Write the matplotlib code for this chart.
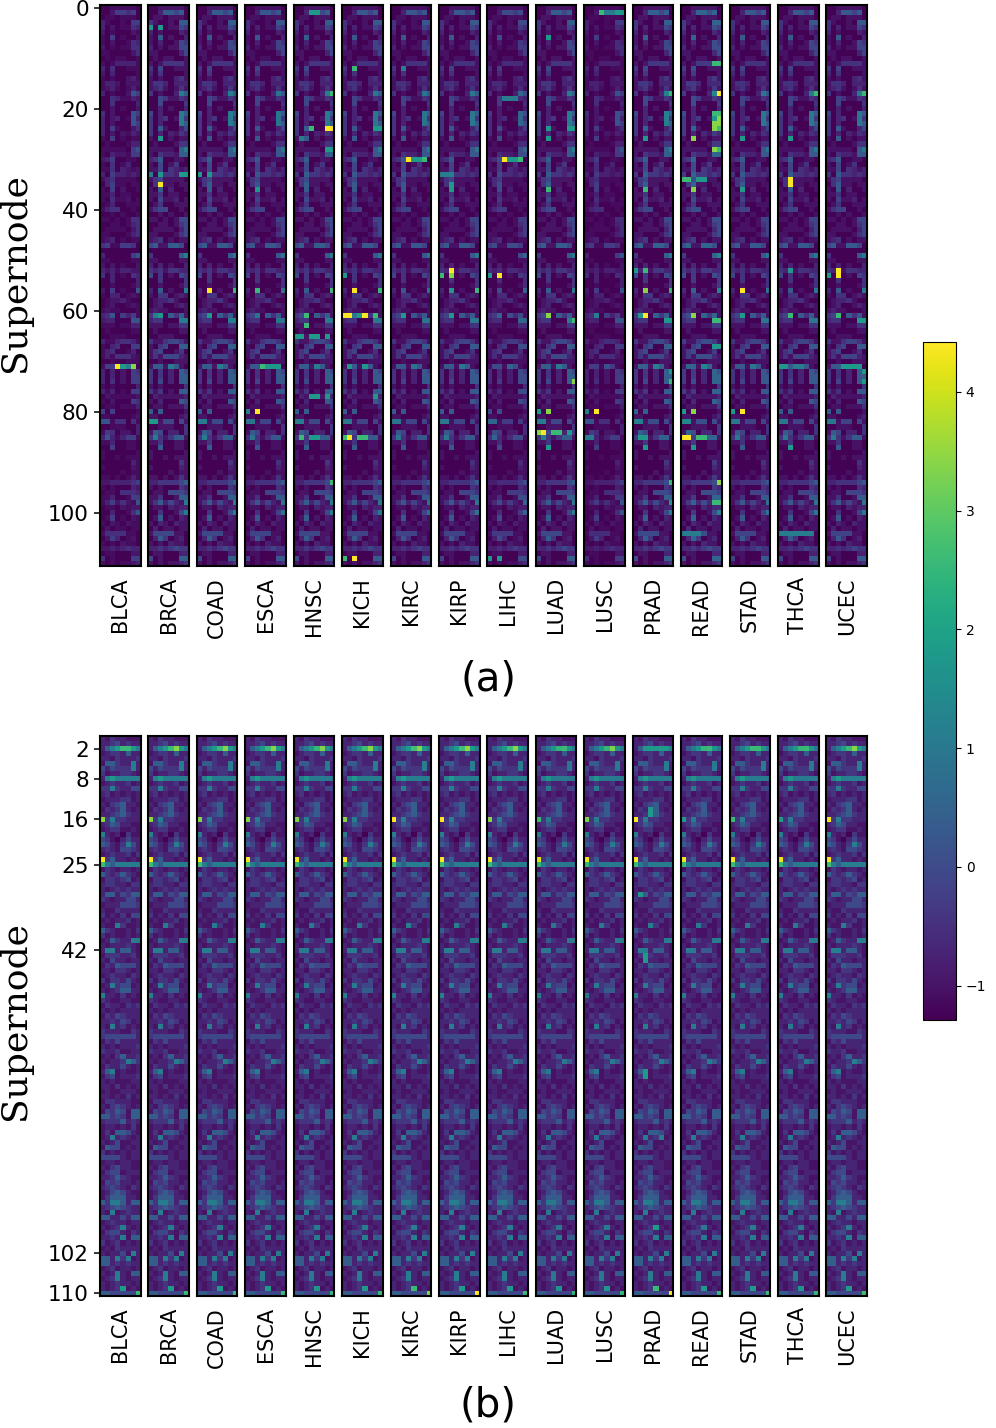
import matplotlib
matplotlib.use("Agg")
import numpy as np
import matplotlib.pyplot as plt

W, H = 996, 1428
cancers = ["BLCA", "BRCA", "COAD", "ESCA", "HNSC", "KICH", "KIRC", "KIRP",
           "LIHC", "LUAD", "LUSC", "PRAD", "READ", "STAD", "THCA", "UCEC"]
vmin, vmax = -1.29, 4.42
# digit in the strings below -> value on the colour scale
levels = [-1.25, -1.0, -0.72, -0.4, -0.05, 0.4, 1.1, 1.8, 2.6, 3.4, 4.4]

# group (a): level pattern read row by row, 8 columns
rows_a = """00111110 00255450 01101110 31001055 30201143 20100021 10501002 10200143
20101144 11000024 01011001 10133331 30400111 20300001 10100231 13320222
12310131 30100265 00431132 00400003 00201002 40200065 30230163 30200065
30510024 30202132 10501011 01000133 11111056 10322155 23500110 10401300
11403212 30533232 13411110 03511011 10502001 11301100 10411201 01300111
13440010 00101001 11010144 00110134 01111024 11000134 12301011 45115540
00000000 30000056 11000011 20201002 32313322 40301043 00300003 00100013
20501006 10330121 01223100 01200121 12110001 34605351 23300066 11101133
01000011 00111000 31134431 10340055 13400130 13144421 00100111 15516510
30302054 30302055 30402055 10100003 31301055 02111112 10200054 01101113
50500001 11000012 66144041 00111003 15402203 36313551 11300110 00500110
10000001 10010111 00000031 10000021 00001011 11010131 22333345 10100032
01104443 11300155 13524216 01102122 00300146 01501021 10210211 02011011
14444110 02530120 10102110 22323433 01100022 40100055 10101123""".split()

# group (b): same reading, 'a' marks the brightest cells
rows_b = """21322111 22342322 25678976 12332522 22132223 15532262 42433362 31223321
26766666 12322312 33632244 23121212 12223312 21345221 13235212 22345322
93633222 23542211 12331121 62120311 43102422 54213642 23214432 12322313
a3522121 86566666 13212212 53235321 13323412 23322133 21232322 25524355
32122442 12224443 21132222 31213144 12122312 21163112 53211213 31211212
12532266 21222321 26625521 13332231 21422122 13254442 22133212 12322132
31332421 12634412 21235522 62213121 32112211 13221323 21212222 13243222
22324312 21623121 32221132 34444442 13242222 21212223 32231122 12135223
21223653 13224212 25612112 13412223 21211122 22131212 12112221 22121312
13322211 21343212 14354155 55343155 23335232 12212131 13155421 12623212
21241122 15441212 31212122 44442122 12212211 21342211 13441222 22353211
14342212 23432132 12454211 13555221 53665255 23454322 21612322 55224255
12322122 21236212 13442132 22326155 31231212 12132222 21224162 55263612
55232322 12312212 21262155 12362122 21232212 21237121 55444448""".split()

gain_a = [0.62, 1.0, 1.0, 0.92, 1.0, 0.95, 0.92, 0.95,
          0.78, 1.0, 0.6, 1.04, 1.1, 0.95, 0.95, 0.95]
gain_b = [1.0, 1.0, 1.0, 1.0, 0.98, 1.0, 1.02, 1.02,
          1.0, 0.96, 0.98, 1.0, 0.98, 1.0, 0.98, 1.02]

# bright cells per panel of (a): (row, column, level)
hot_a = {
    "BLCA": [(71, 3, 10), (71, 4, 7), (71, 5, 6), (71, 6, 9)],
    "BRCA": [(4, 0, 7), (4, 2, 7), (26, 2, 7), (33, 0, 6), (33, 2, 7), (33, 6, 7), (33, 7, 7), (35, 2, 10),
             (61, 1, 6), (61, 2, 7), (82, 0, 7), (82, 1, 7)],
    "COAD": [(33, 0, 7), (33, 2, 7), (56, 2, 10), (56, 7, 8), (61, 2, 7)],
    "ESCA": [(56, 2, 8), (80, 0, 6), (80, 2, 10), (71, 3, 8), (71, 4, 7), (71, 5, 7), (71, 6, 7), (36, 2, 7)],
    "HNSC": [(1, 3, 7), (1, 4, 7), (17, 7, 8), (24, 3, 8), (24, 6, 10), (24, 7, 10), (26, 1, 6), (28, 6, 7),
             (28, 7, 7), (56, 7, 8), (61, 2, 8), (63, 2, 8), (65, 0, 7), (65, 1, 7), (65, 3, 7), (65, 4, 7),
             (65, 6, 7), (77, 3, 7), (77, 4, 7), (77, 6, 7), (85, 1, 8), (85, 3, 7), (85, 4, 7), (94, 7, 8)],
    "KICH": [(12, 2, 8), (24, 6, 7), (24, 7, 7), (53, 0, 7), (56, 2, 10), (56, 7, 8), (61, 0, 10), (61, 1, 10),
             (61, 3, 7), (61, 4, 10), (61, 6, 8), (71, 1, 7), (71, 4, 7), (77, 6, 7), (85, 0, 8), (85, 1, 10),
             (85, 3, 8), (85, 4, 8), (109, 0, 8), (109, 2, 10)],
    "KIRC": [(12, 2, 6), (30, 3, 10), (30, 4, 7), (30, 5, 7), (30, 6, 8), (61, 2, 7)],
    "KIRP": [(33, 0, 6), (33, 1, 6), (33, 2, 6), (35, 2, 7), (36, 2, 7), (52, 2, 10), (53, 0, 8), (53, 2, 9),
             (56, 2, 7), (56, 7, 8), (61, 2, 7)],
    "LIHC": [(18, 3, 6), (18, 4, 6), (18, 5, 6), (30, 3, 10), (30, 4, 7), (30, 5, 7), (30, 6, 8), (53, 0, 7),
             (53, 2, 10), (109, 0, 7), (109, 2, 7)],
    "LUAD": [(6, 2, 7), (24, 2, 7), (24, 6, 7), (24, 7, 7), (26, 2, 7), (36, 2, 8), (61, 2, 9), (62, 7, 8),
             (74, 7, 9), (80, 0, 7), (80, 2, 9), (84, 0, 9), (84, 1, 10), (84, 3, 8), (84, 4, 8), (84, 6, 7),
             (87, 2, 7)],
    "LUSC": [(1, 3, 8), (1, 4, 6), (1, 5, 6), (1, 6, 7), (1, 7, 7), (61, 2, 6), (80, 0, 6), (80, 2, 10), (85, 0, 6),
             (85, 1, 6)],
    "PRAD": [(17, 7, 8), (26, 2, 7), (36, 2, 8), (52, 0, 7), (52, 2, 8), (56, 2, 9), (56, 7, 8), (61, 1, 7),
             (61, 2, 10), (62, 6, 7), (62, 7, 7), (72, 7, 7), (74, 7, 8), (85, 1, 7), (85, 2, 7), (87, 2, 7),
             (94, 7, 8), (98, 7, 7)],
    "READ": [(11, 6, 8), (11, 7, 8), (17, 7, 10), (21, 6, 8), (21, 7, 8), (22, 6, 7), (22, 7, 9), (23, 6, 9),
             (23, 7, 9), (24, 6, 9), (24, 7, 8), (26, 2, 9), (28, 6, 9), (28, 7, 8), (34, 0, 8), (34, 1, 8),
             (34, 3, 7), (34, 4, 7), (36, 2, 9), (61, 2, 9), (62, 6, 8), (62, 7, 8), (67, 6, 7), (67, 7, 7),
             (80, 0, 7), (80, 2, 9), (85, 0, 10), (85, 1, 10), (85, 3, 8), (85, 4, 8), (87, 2, 7), (94, 7, 9),
             (98, 6, 8), (98, 7, 8), (104, 0, 6), (104, 1, 6), (104, 2, 6), (104, 3, 6)],
    "STAD": [(26, 2, 7), (36, 2, 7), (56, 2, 10), (61, 2, 7), (80, 0, 7), (80, 2, 10)],
    "THCA": [(17, 7, 8), (26, 2, 7), (34, 2, 10), (35, 2, 10), (52, 2, 7), (61, 2, 8), (71, 0, 7), (71, 1, 7),
             (71, 3, 6), (71, 4, 6), (87, 2, 7), (104, 0, 6), (104, 1, 6), (104, 2, 6), (104, 3, 6), (104, 4, 6),
             (104, 5, 6), (104, 6, 6)],
    "UCEC": [(17, 7, 8), (52, 2, 10), (53, 0, 7), (53, 2, 10), (61, 2, 8), (62, 6, 7), (62, 7, 7), (71, 3, 7),
             (71, 4, 7), (71, 5, 7), (71, 6, 7), (72, 7, 7), (74, 7, 7)],
}

# cells of (b) that differ from the shared pattern
hot_b = {
    "BLCA": [(2, 5, 8), (16, 0, 9), (24, 0, 10)],
    "ESCA": [(103, 5, 6)],
    "KIRC": [(2, 5, 9), (16, 0, 10), (109, 4, 8), (110, 7, 9)],
    "KIRP": [(16, 0, 10), (110, 7, 10)],
    "LUAD": [(2, 5, 8), (16, 0, 8)],
    "PRAD": [(2, 2, 7), (2, 4, 7), (2, 5, 7), (14, 3, 7), (15, 3, 7), (16, 0, 10), (31, 1, 7), (43, 2, 7),
             (44, 2, 7), (66, 2, 7), (67, 2, 7), (79, 5, 6), (97, 4, 7), (92, 3, 6), (109, 4, 8), (110, 7, 10)],
    "READ": [(2, 5, 8), (16, 0, 7), (109, 4, 7)],
    "STAD": [(2, 5, 8), (16, 0, 8), (24, 0, 10)],
    "THCA": [(2, 5, 8), (16, 0, 7)],
    "UCEC": [(2, 5, 9), (2, 4, 8), (16, 0, 10)],
}

panel_left = [100, 148.4, 196.9, 245.3, 293.7, 342.1, 390.6, 439, 487.4, 535.8, 584.3, 632.7, 681.1, 729.5, 778, 826.4]
panel_w = 40.5


def build(rows, gain, hot):
    m = np.array([[levels[int(c, 16)] for c in r] for r in rows])
    m = vmin + (m - vmin) * gain
    for r, c, lv in hot:
        m[r, c] = levels[lv]
    return m


def draw_group(rows, gains, hots, top, bottom, yticks, ylabel_y, tag, tag_y):
    for i, name in enumerate(cancers):
        ax = fig.add_axes([panel_left[i] / W, 1 - bottom / H, panel_w / W, (bottom - top) / H])
        im = ax.imshow(build(rows, gains[i], hots.get(name, [])), cmap="viridis", vmin=vmin, vmax=vmax,
                       aspect="auto", interpolation="nearest")
        for s in ax.spines.values():
            s.set_linewidth(1.5)
        ax.set_xticks([3.5])
        ax.set_xticklabels([name], rotation=90, fontsize=15)
        ax.tick_params(axis="x", length=0, pad=8)
        if i == 0:
            ax.set_yticks(yticks)
            ax.tick_params(axis="y", labelsize=15.5, length=4.5, width=1.1)
        else:
            ax.set_yticks([])
    fig.text(15 / W, 1 - ylabel_y / H, "Supernode", rotation=90, family="DejaVu Serif", fontsize=26,
             ha="center", va="center")
    fig.text(488 / W, 1 - tag_y / H, tag, fontsize=29, ha="center", va="center")
    return im


fig = plt.figure(figsize=(W / 100, H / 100), dpi=100)
draw_group(rows_a, gain_a, hot_a, 5, 566, [0, 20, 40, 60, 80, 100], 273, "(a)", 680)
im = draw_group(rows_b, gain_b, hot_b, 736, 1296, [2, 8, 16, 25, 42, 102, 110], 1020, "(b)", 1405)

cax = fig.add_axes([923 / W, 1 - 1020 / H, 33 / W, 678 / H])
cb = fig.colorbar(im, cax=cax, ticks=[-1, 0, 1, 2, 3, 4])
cb.ax.tick_params(labelsize=10, length=3.5)

fig.savefig("out.png", dpi=100)
